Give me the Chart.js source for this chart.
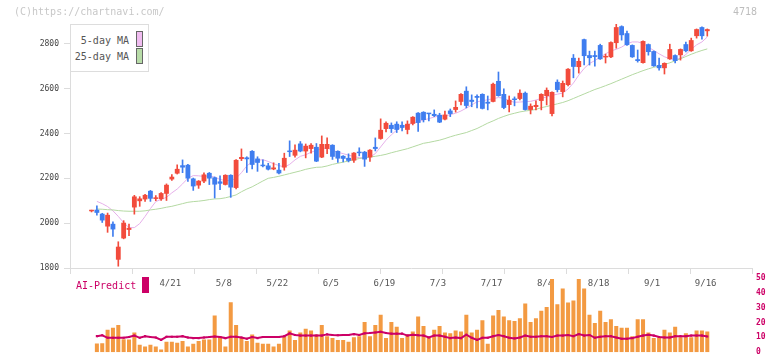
<!DOCTYPE html>
<html>
<head>
<meta charset="utf-8">
<script src="https://cdn.jsdelivr.net/npm/chart.js@4.4.1/dist/chart.umd.min.js"></script>
<style>
  body { margin: 0; background: #fff; }
  #wrap { position: relative; width: 772px; height: 361px; font-family: "DejaVu Sans Mono", monospace; overflow: hidden; }
  #wrap canvas { position: absolute; left: 0; top: 0; }
  .txt { position: absolute; white-space: nowrap; line-height: 10px; font-size: 10px; }
  .sw { position: absolute; box-sizing: border-box; }
</style>
</head>
<body>
<div id="wrap">
  <canvas id="priceChart" width="772" height="361"></canvas>
  <canvas id="volChart" width="772" height="361"></canvas>

  <div class="txt" style="left:14px;top:7px;color:#c8c8c8">(C)https://chartnavi.com/</div>
  <div class="txt" style="left:733px;top:7px;color:#bdbdbd">4718</div>

  <div class="sw" style="left:70px;top:24px;width:79px;height:48px;border:1px solid #ddd;background:#fff"></div>
  <div class="txt" style="right:643px;top:36px;color:#555">5-day MA</div>
  <div class="txt" style="right:643px;top:52px;color:#555">25-day MA</div>
  <div class="sw" style="left:136px;top:31px;width:7px;height:16px;border:1px solid #666;background:#f0bcf0"></div>
  <div class="sw" style="left:136px;top:48px;width:7px;height:16px;border:1px solid #666;background:#b8dca8"></div>

  <div class="txt" style="left:76px;top:281px;color:#cc0066">AI-Predict</div>
  <div class="sw" style="left:142px;top:277px;width:7px;height:16px;background:#cc0066"></div>
</div>

<script>
// daily candles, index 0 = first day on the chart
const opens = [
  2053, 2060, 2042, 1985, 1997, 1837, 1932, 1970, 2070, 2098,
  2106, 2144, 2108, 2107, 2131, 2195, 2221, 2258, 2260, 2199,
  2168, 2186, 2224, 2204, 2186, 2171, 2215, 2157, 2286, 2293,
  2322, 2288, 2256, 2257, 2240, 2238, 2248, 2319, 2301, 2355,
  2320, 2331, 2340, 2293, 2331, 2349, 2322, 2300, 2291, 2279,
  2314, 2318, 2293, 2340, 2376, 2420, 2438, 2443, 2438, 2416,
  2443, 2492, 2496, 2488, 2487, 2483, 2462, 2502, 2505, 2541,
  2590, 2550, 2567, 2576, 2541, 2541, 2634, 2576, 2527, 2551,
  2554, 2581, 2505, 2518, 2545, 2567, 2487, 2630, 2585, 2616,
  2737, 2696, 2820, 2749, 2749, 2794, 2739, 2740, 2803, 2878,
  2847, 2794, 2731, 2714, 2798, 2767, 2705, 2691, 2731, 2749,
  2749, 2798, 2767, 2834, 2874, 2856
];
const highs = [
  2058, 2077, 2044, 2045, 2006, 1917, 2011, 1996, 2124, 2118,
  2128, 2146, 2123, 2136, 2175, 2217, 2260, 2282, 2262, 2201,
  2190, 2224, 2226, 2206, 2211, 2216, 2216, 2283, 2331, 2296,
  2324, 2296, 2282, 2267, 2269, 2267, 2312, 2367, 2349, 2364,
  2353, 2355, 2355, 2389, 2380, 2350, 2323, 2301, 2309, 2315,
  2336, 2320, 2328, 2380, 2465, 2452, 2447, 2452, 2452, 2456,
  2475, 2493, 2497, 2489, 2505, 2490, 2500, 2509, 2545, 2578,
  2608, 2572, 2572, 2577, 2567, 2625, 2674, 2599, 2567, 2563,
  2594, 2585, 2532, 2545, 2577, 2603, 2586, 2639, 2634, 2689,
  2752, 2736, 2821, 2767, 2767, 2798, 2754, 2808, 2887, 2880,
  2856, 2795, 2772, 2813, 2799, 2768, 2736, 2715, 2798, 2750,
  2777, 2807, 2825, 2866, 2875, 2866
];
const lows = [
  2050, 2036, 2003, 1959, 1941, 1808, 1930, 1944, 2040, 2075,
  2097, 2097, 2100, 2101, 2101, 2190, 2219, 2225, 2186, 2146,
  2155, 2181, 2172, 2112, 2149, 2170, 2115, 2153, 2279, 2226,
  2242, 2231, 2251, 2237, 2238, 2220, 2236, 2297, 2294, 2318,
  2291, 2312, 2274, 2292, 2310, 2284, 2271, 2273, 2273, 2271,
  2300, 2253, 2275, 2322, 2374, 2407, 2404, 2404, 2411, 2398,
  2438, 2409, 2451, 2456, 2475, 2448, 2460, 2475, 2495, 2527,
  2514, 2519, 2514, 2509, 2505, 2540, 2566, 2510, 2496, 2523,
  2550, 2504, 2487, 2505, 2505, 2527, 2478, 2585, 2563, 2612,
  2648, 2669, 2705, 2705, 2700, 2730, 2714, 2738, 2780, 2816,
  2793, 2739, 2718, 2713, 2749, 2699, 2682, 2665, 2730, 2714,
  2727, 2763, 2766, 2825, 2820, 2834
];
const closes = [
  2056, 2046, 2012, 2037, 1972, 1895, 2002, 1979, 2119, 2110,
  2126, 2109, 2115, 2134, 2171, 2207, 2242, 2248, 2199, 2164,
  2189, 2217, 2199, 2172, 2176, 2215, 2159, 2282, 2295, 2285,
  2260, 2269, 2254, 2239, 2248, 2222, 2291, 2317, 2327, 2320,
  2345, 2349, 2275, 2353, 2353, 2296, 2288, 2287, 2278, 2314,
  2312, 2284, 2327, 2331, 2416, 2447, 2420, 2416, 2425, 2443,
  2474, 2447, 2460, 2486, 2478, 2449, 2484, 2487, 2518, 2576,
  2523, 2541, 2559, 2510, 2533, 2621, 2567, 2514, 2550, 2549,
  2581, 2505, 2523, 2527, 2576, 2594, 2585, 2594, 2625, 2688,
  2697, 2723, 2745, 2736, 2741, 2731, 2741, 2807, 2874, 2838,
  2794, 2740, 2723, 2812, 2763, 2700, 2691, 2714, 2776, 2723,
  2776, 2767, 2816, 2865, 2834, 2865
];
const ma5 = [
  null, 2097, 2087, 2074, 2055, 2030, 2002, 1980, 1980, 1998,
  2030, 2065, 2096, 2106, 2115, 2135, 2152, 2175, 2200, 2212,
  2211, 2208, 2211, 2205, 2195, 2190, 2190, 2200, 2225, 2255,
  2274, 2280, 2283, 2275, 2265, 2257, 2250, 2262, 2282, 2298,
  2305, 2316, 2325, 2333, 2335, 2325, 2316, 2310, 2303, 2297,
  2292, 2290, 2295, 2310, 2340, 2370, 2394, 2415, 2430, 2438,
  2446, 2452, 2460, 2466, 2473, 2478, 2478, 2484, 2490, 2500,
  2513, 2527, 2541, 2546, 2550, 2555, 2560, 2557, 2545, 2539,
  2540, 2542, 2543, 2549, 2556, 2563, 2570, 2575, 2580, 2598,
  2625, 2660, 2690, 2712, 2725, 2740, 2755, 2768, 2775, 2785,
  2800, 2808, 2808, 2802, 2785, 2770, 2755, 2742, 2733, 2730,
  2735, 2752, 2775, 2795, 2808, 2830
];
const ma25 = [
  null, 2063, 2062, 2060, 2059, 2056, 2054, 2053, 2053, 2053,
  2055, 2059, 2062, 2066, 2071, 2075, 2081, 2087, 2093, 2096,
  2098, 2101, 2105, 2108, 2109, 2113, 2119, 2126, 2140, 2152,
  2162, 2175, 2188, 2200, 2204, 2209, 2215, 2221, 2227, 2233,
  2240, 2245, 2249, 2250, 2255, 2262, 2267, 2272, 2277, 2283,
  2288, 2292, 2295, 2298, 2302, 2307, 2314, 2320, 2326, 2332,
  2340, 2348, 2356, 2360, 2365, 2370, 2377, 2385, 2392, 2398,
  2404, 2413, 2422, 2434, 2446, 2456, 2467, 2476, 2484, 2490,
  2496, 2500, 2503, 2507, 2515, 2520, 2526, 2532, 2538, 2546,
  2556, 2566, 2576, 2586, 2596, 2604, 2613, 2622, 2632, 2642,
  2652, 2662, 2671, 2680, 2688, 2695, 2701, 2707, 2715, 2724,
  2733, 2743, 2753, 2762, 2770, 2777
];
// lower panel
const volume = [
  null, 5.9, 6.0, 15.2, 16.5, 18.4, 8.7, 8.5, 13.3, 5.0,
  3.8, 5.0, 3.8, 1.9, 7.0, 7.0, 6.3, 7.6, 3.8, 5.7,
  7.6, 8.5, 8.5, 24.7, 10.8, 3.8, 33.7, 18.4, 9.5, 7.6,
  12.0, 6.3, 5.7, 5.7, 3.8, 5.7, 10.8, 14.6, 8.3, 13.3,
  15.8, 14.6, 12.0, 18.4, 10.8, 9.5, 8.3, 8.3, 7.0, 10.0,
  10.8, 20.3, 10.8, 18.4, 25.3, 9.5, 20.3, 17.1, 9.5, 12.0,
  13.9, 24.0, 17.7, 9.5, 15.2, 17.7, 13.3, 12.7, 14.6, 13.9,
  25.3, 13.3, 15.2, 21.5, 5.7, 24.7, 28.5, 24.0, 21.5, 21.0,
  22.8, 32.9, 20.3, 22.8, 28.0, 30.4, 49.4, 32.3, 43.0, 33.5,
  34.8, 49.4, 43.0, 25.3, 19.6, 28.0, 20.3, 22.2, 17.7, 16.5,
  16.5, 10.8, 22.2, 22.2, 13.3, 9.5, 10.0, 15.2, 13.3, 17.1,
  10.0, 12.7, 10.0, 14.6, 14.6, 13.9
];
const aiPredict = [
  null, 10.8, 11.4, 9.7, 9.7, 9.7, 9.7, 10.2, 11.2, 9.7,
  10.8, 10.2, 9.9, 8.3, 10.4, 10.4, 10.4, 10.8, 9.9, 9.5,
  9.5, 9.9, 10.2, 10.6, 10.2, 9.5, 10.4, 10.4, 9.9, 9.1,
  10.2, 9.5, 10.2, 10.2, 10.2, 10.2, 10.8, 12.7, 11.6, 11.2,
  11.2, 11.2, 11.2, 11.2, 12.0, 11.6, 11.4, 11.6, 11.6, 12.2,
  11.6, 12.7, 12.9, 13.3, 13.7, 12.9, 12.5, 12.5, 12.5, 11.2,
  11.8, 11.4, 11.2, 9.9, 11.2, 11.2, 10.4, 9.5, 9.9, 9.5,
  11.8, 9.7, 8.3, 9.7, 9.7, 10.8, 11.6, 10.8, 9.7, 9.3,
  9.9, 11.2, 10.4, 10.4, 10.8, 10.8, 10.2, 11.2, 11.2, 11.6,
  10.8, 12.2, 11.2, 11.6, 9.7, 10.4, 10.8, 10.8, 9.9, 9.1,
  9.1, 9.5, 10.4, 11.2, 11.8, 11.2, 10.2, 9.9, 9.9, 10.8,
  10.8, 10.8, 11.2, 11.2, 11.2, 10.6
];
const dateLabels = ["4/21", "5/8", "5/22", "6/5", "6/19", "7/3", "7/17", "8/4", "8/18", "9/1", "9/16"];
const dateIdx = [14.7, 24.7, 34.7, 44.7, 54.7, 64.7, 74.7, 84.7, 94.7, 104.7, 114.7];
const priceTicks = [1800, 2000, 2200, 2400, 2600, 2800];
const volTicks = [0, 10, 20, 30, 40, 50];

// x range in day index units (plot spans 70..752 px)
const X_MIN = -4.02;
const X_MAX = 123.35;
const GRID_STEP = (X_MAX - X_MIN) / 11;

const RED = "#f24b3c";
const BLUE = "#3f7def";
const candleColors = opens.map((o, i) => (closes[i] >= o ? RED : BLUE));

const monoFont = "'DejaVu Sans Mono', monospace";

const priceCtx = document.getElementById("priceChart").getContext("2d");
const priceChart = new Chart(priceCtx, {
  type: "bar",
  data: {
    datasets: [
      {
        type: "line",
        label: "5-day MA",
        data: ma5.map((v, i) => ({ x: i, y: v })),
        borderColor: "#e6b0ea",
        borderWidth: 1,
        pointRadius: 0,
        order: 5,
      },
      {
        type: "line",
        label: "25-day MA",
        data: ma25.map((v, i) => ({ x: i, y: v })),
        borderColor: "#b4d9a2",
        borderWidth: 1,
        pointRadius: 0,
        order: 4,
      },
      {
        label: "wick",
        data: lows.map((l, i) => ({ x: i, y: [l, highs[i]] })),
        backgroundColor: candleColors,
        barThickness: 1,
        grouped: false,
        order: 2,
      },
      {
        label: "body",
        data: opens.map((o, i) => ({ x: i, y: [o, closes[i]] })),
        backgroundColor: candleColors,
        barPercentage: 0.9,
        categoryPercentage: 1,
        minBarLength: 1.5,
        grouped: false,
        order: 1,
      },
    ],
  },
  options: {
    responsive: false,
    animation: false,
    layout: { padding: { left: 0, right: 20, top: 24, bottom: 0 } },
    plugins: { legend: { display: false }, tooltip: { enabled: false } },
    scales: {
      x: {
        type: "linear",
        min: X_MIN,
        max: X_MAX,
        offset: false,
        afterBuildTicks: (s) => {
          s.ticks = [];
          for (let k = 0; k <= 11; k++) s.ticks.push({ value: X_MIN + k * GRID_STEP });
        },
        afterFit: (s) => { s.height = 8; },
        ticks: { display: false },
        grid: { offset: false, drawOnChartArea: false, tickLength: 6, color: "#dcdcdc" },
        border: { color: "#dcdcdc" },
      },
      xd: {
        type: "linear",
        position: "bottom",
        min: X_MIN,
        max: X_MAX,
        offset: false,
        afterBuildTicks: (s) => { s.ticks = dateIdx.map((v) => ({ value: v })); },
        afterFit: (s) => { s.height = 85; },
        ticks: {
          autoSkip: false,
          maxRotation: 0,
          padding: 2,
          color: "#555",
          font: { family: monoFont, size: 9 },
          callback: (v, idx) => dateLabels[idx],
        },
        grid: { display: false, drawTicks: false },
        border: { display: false },
      },
      y: {
        position: "left",
        min: 1800,
        max: 2888,
        afterBuildTicks: (s) => { s.ticks = priceTicks.map((v) => ({ value: v })); },
        afterFit: (s) => { s.width = 70; },
        ticks: {
          padding: 5,
          color: "#444",
          font: { family: monoFont, size: 8 },
          callback: (v) => String(v),
        },
        grid: { drawOnChartArea: false, tickLength: 6, color: "#dcdcdc" },
        border: { color: "#dcdcdc" },
      },
    },
  },
});

const volCtx = document.getElementById("volChart").getContext("2d");
const volChart = new Chart(volCtx, {
  type: "bar",
  data: {
    datasets: [
      {
        type: "line",
        label: "AI-Predict",
        data: aiPredict.map((v, i) => ({ x: i, y: v })),
        borderColor: "#cc0066",
        backgroundColor: "#cc0066",
        borderWidth: 2,
        pointStyle: "rect",
        pointRadius: 1.5,
        pointBorderWidth: 0,
        order: 1,
      },
      {
        label: "volume",
        data: volume.map((v, i) => ({ x: i, y: v })),
        backgroundColor: "#f39a42",
        barPercentage: 0.75,
        categoryPercentage: 1,
        order: 2,
      },
    ],
  },
  options: {
    responsive: false,
    animation: false,
    layout: { padding: { left: 70, right: 0, top: 278, bottom: 4 } },
    plugins: { legend: { display: false }, tooltip: { enabled: false } },
    scales: {
      x: {
        type: "linear",
        min: X_MIN,
        max: X_MAX,
        offset: false,
        display: false,
        grid: { offset: false },
      },
      y: {
        position: "right",
        min: 0,
        max: 50,
        afterBuildTicks: (s) => { s.ticks = volTicks.map((v) => ({ value: v })); },
        afterFit: (s) => { s.width = 20; },
        ticks: { padding: 4, color: "#cc0066", font: { family: monoFont, size: 8, weight: "bold" } },
        grid: { display: false, drawTicks: false },
        border: { display: false },
      },
    },
  },
});
</script>
</body>
</html>
